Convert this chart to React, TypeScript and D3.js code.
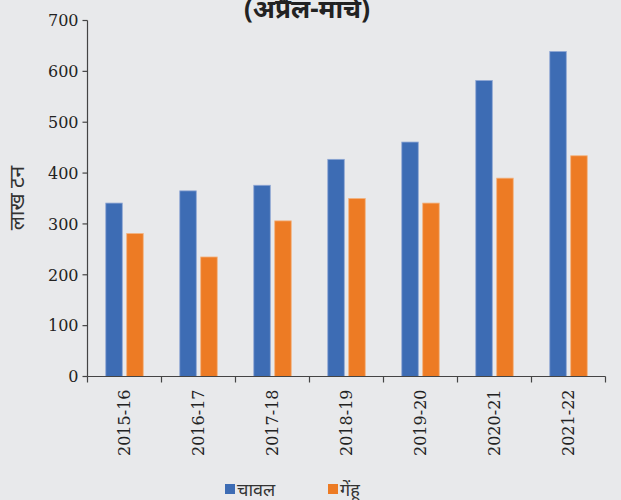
import React from "react";
import * as d3 from "d3";

const categories = ["2015-16", "2016-17", "2017-18", "2018-19", "2019-20", "2020-21", "2021-22"];
const riceValues = [341, 365, 376, 427, 461, 582, 639];
const wheatValues = [281, 235, 306, 350, 341, 390, 434];
const yTicks = [0, 100, 200, 300, 400, 500, 600, 700];
const seriesNames = ["चावल", "गेंहू"];
const titleText = "(अप्रैल-मार्च)";
const yLabel = "लाख टन";

const W = 621;
const H = 500;
const m = { left: 87.5, right: 15.5, top: 20.5, bottom: 123.5 };
const BLUE = "#3d6cb4";
const ORANGE = "#ed7b24";
const AXIS = "#444";

export default function App() {
  const x = d3.scaleBand<string>().domain(categories).range([m.left, W - m.right]).paddingInner(0).paddingOuter(0);
  const y = d3.scaleLinear().domain([0, 700]).range([H - m.bottom, m.top]);
  const bw = x.bandwidth();
  const barW = bw * 0.223;
  const gap = bw * 0.06;
  const series = [riceValues, wheatValues];
  const colors = [BLUE, ORANGE];
  const strokes = ["#8ea6d4", "#f3b27e"];
  const y0 = y(0);
  return (
    <svg width={W} height={H} style={{ position: "absolute", left: 0, top: 0, background: "#e8e9eb" }}>
      <rect x={0} y={0} width={W} height={H} fill="#e8e9eb" />
      <text x={307} y={18} textAnchor="middle" fontFamily="'Noto Sans', sans-serif" fontWeight="bold" fontSize={26} fill="#222">{titleText}</text>
      {series.map((vals, si) =>
        categories.map((c, i) => {
          const cx = (x(c) as number) + bw / 2;
          const bx = si === 0 ? cx - gap / 2 - barW : cx + gap / 2;
          return (
            <rect key={si + "-" + c} x={bx} y={y(vals[i])} width={barW} height={y0 - y(vals[i])} fill={colors[si]} stroke={strokes[si]} strokeWidth={0.8} />
          );
        })
      )}
      {/* y axis */}
      <line x1={m.left} x2={m.left} y1={y(700)} y2={y0} stroke={AXIS} strokeWidth={1.2} />
      {yTicks.map((t) => (
        <g key={t}>
          <line x1={m.left - 5} x2={m.left} y1={y(t)} y2={y(t)} stroke={AXIS} strokeWidth={1.2} />
          <text x={m.left - 9} y={y(t)} dy="0.36em" textAnchor="end" fontFamily="'DejaVu Serif', serif" fontSize={16} fill="#222">{t}</text>
        </g>
      ))}
      {/* x axis */}
      <line x1={m.left} x2={W - m.right} y1={y0} y2={y0} stroke={AXIS} strokeWidth={1.2} />
      {[...categories.map((c) => x(c) as number), W - m.right].map((px, i) => (
        <line key={i} x1={px} x2={px} y1={y0} y2={y0 + 6} stroke={AXIS} strokeWidth={1.2} />
      ))}
      {categories.map((c) => {
        const cx = (x(c) as number) + bw / 2;
        return (
          <text key={c} transform={`translate(${cx},${y0 + 13}) rotate(-90)`} textAnchor="end" dy="0.36em" fontFamily="'DejaVu Serif', serif" fontSize={16} fill="#222">{c}</text>
        );
      })}
      <text transform={`translate(17,198) rotate(-90)`} textAnchor="middle" dy="0.35em" fontFamily="'Noto Sans', sans-serif" fontSize={21} fill="#333">{yLabel}</text>
      {/* legend */}
      <rect x={225} y={484} width={10} height={10} fill={BLUE} />
      <text x={237} y={496} fontFamily="'Noto Sans', sans-serif" fontSize={18} fill="#333">{seriesNames[0]}</text>
      <rect x={328} y={484} width={10} height={10} fill={ORANGE} />
      <text x={340} y={496} fontFamily="'Noto Sans', sans-serif" fontSize={18} fill="#333">{seriesNames[1]}</text>
    </svg>
  );
}
